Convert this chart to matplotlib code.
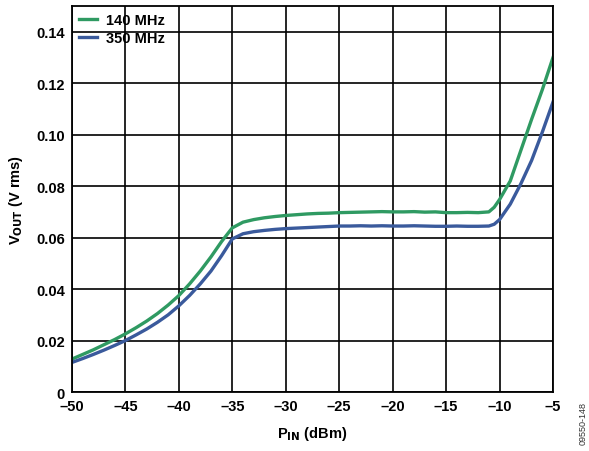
import matplotlib.pyplot as plt
import numpy as np

plt.rcParams['font.family'] = ['Liberation Sans', 'DejaVu Sans']

# P_IN (dBm)
pin = [-50, -49, -48, -47, -46, -45, -44, -43, -42, -41, -40, -39, -38, -37, -36,
       -35, -34, -33, -32, -31, -30, -29, -28, -27, -26, -25, -24, -23, -22, -21,
       -20, -19, -18, -17, -16, -15, -14, -13, -12, -11, -10.5, -10, -9, -8, -7,
       -6, -5]

vout_140 = [0.0128, 0.0146, 0.0164, 0.0184, 0.0204, 0.0226, 0.0250, 0.0276, 0.0305,
            0.0338, 0.0375, 0.0420, 0.0470, 0.0525, 0.0585, 0.0638, 0.0660, 0.0670,
            0.0677, 0.0682, 0.0686, 0.0689, 0.0692, 0.0694, 0.0695, 0.0697, 0.0698,
            0.0699, 0.0700, 0.0701, 0.0700, 0.0700, 0.0701, 0.0699, 0.0700, 0.0697,
            0.0697, 0.0698, 0.0697, 0.0700, 0.0718, 0.0748, 0.0820, 0.0940, 0.1060,
            0.1175, 0.1300]

vout_350 = [0.0115, 0.0130, 0.0146, 0.0163, 0.0181, 0.0200, 0.0222, 0.0245, 0.0271,
            0.0300, 0.0335, 0.0375, 0.0420, 0.0470, 0.0530, 0.0595, 0.0615, 0.0623,
            0.0628, 0.0632, 0.0635, 0.0637, 0.0639, 0.0641, 0.0643, 0.0645, 0.0645,
            0.0646, 0.0645, 0.0646, 0.0645, 0.0645, 0.0646, 0.0645, 0.0644, 0.0644,
            0.0645, 0.0644, 0.0644, 0.0645, 0.0652, 0.0670, 0.0730, 0.0810, 0.0900,
            0.1010, 0.1127]

xticks = [-50, -45, -40, -35, -30, -25, -20, -15, -10, -5]
yticks = [0, 0.02, 0.04, 0.06, 0.08, 0.10, 0.12, 0.14]

fig = plt.figure(figsize=(5.89, 4.52), dpi=100)
ax = fig.add_axes([0.1222, 0.1305, 0.8167, 0.854])

ax.plot(pin, vout_140, color='#2f9a62', lw=2.4, label='140 MHz')
ax.plot(pin, vout_350, color='#3a5a9c', lw=2.4, label='350 MHz')

ax.set_xlim(-50, -5)
ax.set_ylim(0, 0.15)
ax.set_xticks(xticks)
ax.set_xticklabels(['\u2013' + str(abs(t)) for t in xticks])
ax.set_yticks(yticks)
ax.set_yticklabels(['0' if t == 0 else '%.2f' % t for t in yticks])
ax.grid(True, color='black', lw=1.2)
ax.set_axisbelow(True)
for s in ax.spines.values():
    s.set_linewidth(1.3)
ax.tick_params(length=0, labelsize=10.5, pad=5)
for lab in ax.get_xticklabels() + ax.get_yticklabels():
    lab.set_fontweight('bold')

ax.set_xlabel('P$_{\\mathbf{IN}}$ (dBm)', fontsize=10.5, fontweight='bold', labelpad=8)
ax.set_ylabel('V$_{\\mathbf{OUT}}$ (V rms)', fontsize=10.5, fontweight='bold', labelpad=8)

leg = ax.legend(loc='upper left', frameon=False, handlelength=1.2, handletextpad=0.6,
                borderaxespad=0.1, labelspacing=0.25,
                prop={'weight': 'bold', 'size': 10.5})

fig.text(0.99, 0.015, '09550-148', rotation=90, fontsize=6.5, color='#333333',
         ha='center', va='bottom')

fig.savefig('out.png', dpi=100)
